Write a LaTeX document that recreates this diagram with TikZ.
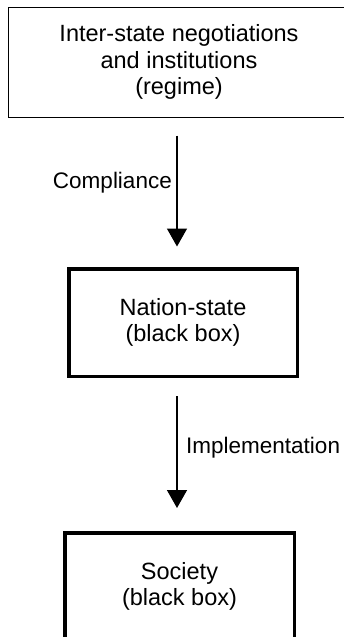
\documentclass[tikz,border=0pt]{standalone}
\usepackage{fontspec}
\setmainfont{Liberation Sans}
\usetikzlibrary{arrows.meta}
\begin{document}
\begin{tikzpicture}[x=1pt,y=-1pt,
  boxtext/.style={align=center,font=\fontsize{23.5}{26.5}\selectfont,inner sep=0pt},
  thinbox/.style={boxtext,draw,line width=1pt},
  thickbox/.style={boxtext,draw,line width=3.5pt},
  lbl/.style={font=\fontsize{22.5}{26}\selectfont,inner sep=0pt},
  arr/.style={line width=1.4pt,-{Triangle[width=20pt,length=18pt]}}]
\useasboundingbox (0,0) rectangle (343,637);
\node[thinbox,minimum width=342pt,minimum height=110pt] (regime) at (179,62)
  {Inter-state negotiations\\and institutions\\(regime)};
\node[thickbox,minimum width=228.5pt,minimum height=107.5pt] (nation) at (183,322.5)
  {Nation-state\\(black box)};
\node[thickbox,minimum width=229.5pt,minimum height=107.5pt] (society) at (179.5,586.5)
  {Society\\(black box)};
\coordinate (ax) at (177,0);
\draw[arr,shorten <=18pt,shorten >=20.5pt] (regime.south -| ax) -- (nation.north -| ax);
\draw[arr,shorten <=18pt,shorten >=23pt] (nation.south -| ax) -- (society.north -| ax);
\node[lbl,anchor=base east] (comp) at (172,188) {Compliance};
\node[lbl,anchor=base west] (impl) at (186,453) {Implementation};
\end{tikzpicture}
\end{document}
